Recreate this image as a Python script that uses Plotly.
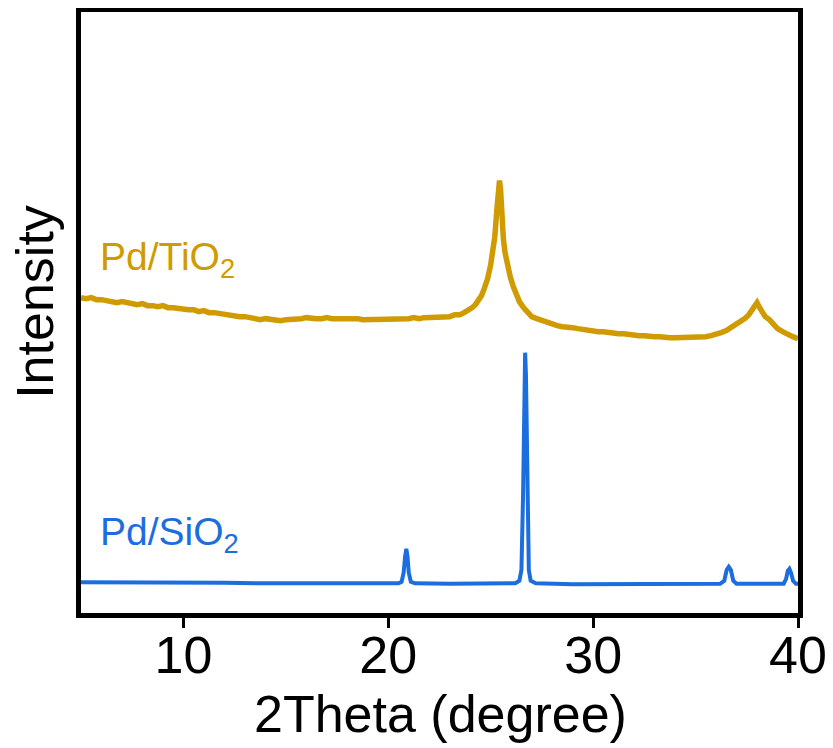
import plotly.graph_objects as go

# ---- data (2theta in degrees, intensity in arbitrary units) ----
tio2_x = [5.00, 5.25, 5.50, 5.75, 6.00, 6.25, 6.50, 6.75, 7.00, 7.25, 7.50, 7.75, 8.00, 8.25, 8.50, 8.75,
          9.00, 9.25, 9.50, 9.75, 10.00, 10.25, 10.50, 10.75, 11.00, 11.25, 11.50, 11.75, 12.00, 12.25, 12.50,
          12.75, 13.00, 13.25, 13.50, 13.75, 14.00, 14.25, 14.50, 14.75, 15.00, 15.25, 15.50, 15.75, 16.00,
          16.25, 16.50, 16.75, 17.00, 17.25, 17.50, 17.75, 18.00, 18.25, 18.50, 18.75, 19.00, 19.25, 19.50,
          19.75, 20.00, 20.25, 20.50, 20.75, 21.00, 21.25, 21.50, 21.75, 22.00, 22.25, 22.50, 22.75, 23.00,
          23.25, 23.50, 23.70, 23.90, 24.10, 24.25, 24.40, 24.55, 24.70, 24.85, 25.00, 25.10, 25.20, 25.30,
          25.38, 25.43, 25.48, 25.55, 25.62, 25.70, 25.80, 25.95, 26.10, 26.25, 26.40, 26.60, 26.80, 27.00,
          27.25, 27.50, 27.75, 28.00, 28.25, 28.50, 28.75, 29.00, 29.25, 29.50, 29.75, 30.00, 30.25, 30.50,
          30.75, 31.00, 31.25, 31.50, 31.75, 32.00, 32.25, 32.50, 32.75, 33.00, 33.25, 33.50, 33.75, 34.00,
          34.25, 34.50, 34.75, 35.00, 35.25, 35.50, 35.75, 36.00, 36.25, 36.50, 36.75, 37.00, 37.20, 37.40,
          37.60, 37.80, 37.90, 38.00, 38.10, 38.25, 38.40, 38.60, 38.80, 39.00, 39.25, 39.50, 39.75, 40.00]
tio2_y = [317, 316, 317, 315, 315, 314, 314, 312, 313, 312, 311, 310, 311, 309, 309, 308,
          309, 307, 307, 306, 306, 305, 305, 303, 304, 302, 302, 301, 301, 299, 299,
          298, 298, 297, 297, 295, 296, 295, 295, 294, 295, 295, 296, 296, 297,
          296, 296, 296, 297, 296, 296, 296, 297, 296, 296, 295, 295, 295, 296,
          295, 295, 296, 296, 296, 296, 297, 296, 297, 297, 297, 297, 298, 298,
          300, 300, 302, 304, 307, 310, 314, 319, 327, 336, 350, 362, 378, 405,
          428, 434, 425, 395, 375, 362, 350, 338, 328, 319, 313, 307, 302, 298,
          296, 294, 292, 291, 289, 288, 288, 287, 286, 285, 285, 284, 283, 283,
          282, 282, 281, 281, 280, 280, 279, 279, 278, 278, 278, 277, 277, 277,
          277, 277, 277, 277, 278, 278, 279, 280, 282, 284, 287, 290, 293, 296,
          300, 306, 310, 312, 308, 302, 298, 295, 291, 286, 283, 280, 278, 276]

sio2_x = [5.0, 6.0, 7.0, 8.0, 8.7, 9.0, 10.0, 12.0, 14.0, 16.0, 18.0, 19.5, 20.5, 20.65, 20.75, 20.82,
          20.88, 20.94, 21.0, 21.1, 21.3, 23.0, 25.0, 26.2, 26.4, 26.5, 26.58, 26.64, 26.68, 26.72, 26.78,
          26.86, 26.95, 27.2, 29.0, 31.0, 33.0, 35.0, 36.2, 36.4, 36.52, 36.62, 36.72, 36.84, 37.0, 38.5,
          39.3, 39.42, 39.5, 39.58, 39.66, 39.76, 39.9, 40.0]
sio2_y = [32.5, 32.5, 32.0, 32.5, 33.0, 32.5, 32.0, 32.0, 31.5, 31.5, 31.5, 31.5, 31.5, 33, 42, 58,
          66, 58, 42, 33, 31.5, 31, 31, 31.5, 34, 45, 120, 240, 262, 240, 120,
          45, 34, 31.5, 30.5, 30.5, 30.5, 30.5, 31, 34, 45, 48, 45, 34, 31, 31,
          31, 36, 44, 46, 42, 34, 31, 31]

labels = ["Pd/TiO<sub>2</sub>", "Pd/SiO<sub>2</sub>"]
colors = ["#D09B00", "#1C6EDF"]
x_ticks = [10, 20, 30, 40]
x_title = "2Theta (degree)"
y_title = "Intensity"

FONT = "Arial, Liberation Sans, sans-serif"

fig = go.Figure()
fig.add_trace(go.Scatter(x=tio2_x, y=tio2_y, mode="lines",
                         line=dict(color=colors[0], width=5.5), showlegend=False))
fig.add_trace(go.Scatter(x=sio2_x, y=sio2_y, mode="lines",
                         line=dict(color=colors[1], width=4), showlegend=False))

fig.add_annotation(x=5.85, y=355, xref="x", yref="y", text=labels[0], showarrow=False,
                   xanchor="left", yanchor="middle", font=dict(family=FONT, size=39, color=colors[0]))
fig.add_annotation(x=5.85, y=80, xref="x", yref="y", text=labels[1], showarrow=False,
                   xanchor="left", yanchor="middle", font=dict(family=FONT, size=39, color=colors[1]))

# axis titles as annotations for exact placement
fig.add_annotation(x=0.502, y=-0.1686, xref="paper", yref="paper", text=x_title, showarrow=False,
                   xanchor="center", yanchor="middle", font=dict(family=FONT, size=52, color="black"))
fig.add_annotation(x=-0.0634, y=0.517, xref="paper", yref="paper", text=y_title, showarrow=False,
                   textangle=-90, xanchor="center", yanchor="middle",
                   font=dict(family=FONT, size=52, color="black"))

fig.update_layout(
    width=825, height=740,
    margin=dict(l=72.5, r=34.5, t=4, b=135.3),
    paper_bgcolor="white", plot_bgcolor="white",
    font=dict(family=FONT, color="black"),
    xaxis=dict(range=[5, 40], tickvals=x_ticks, ticks="outside", ticklen=10, tickwidth=3,
               tickcolor="black", showline=True, linewidth=4.5, linecolor="black", mirror=True,
               showgrid=False, zeroline=False, tickfont=dict(size=52, family=FONT),
               automargin=False, ticklabelstandoff=-17),
    yaxis=dict(range=[1.8, 602.5], showticklabels=False, ticks="", showline=True, linewidth=4.5,
               linecolor="black", mirror=True, showgrid=False, zeroline=False, automargin=False),
)

fig.write_html("out.html")
